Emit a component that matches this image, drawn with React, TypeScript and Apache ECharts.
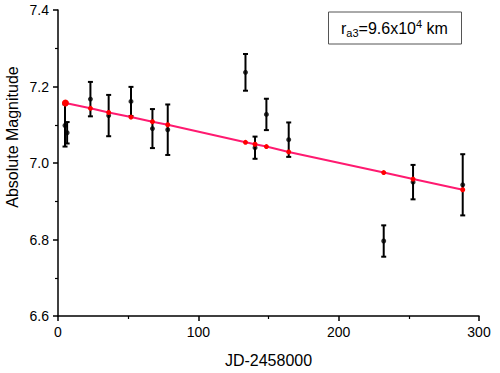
import React, { useEffect, useRef } from "react";
import * as echarts from "echarts";

// Observations: JD-2458000, absolute magnitude, error
const obsX = [5.0, 6.5, 23.1, 36.1, 52.0, 67.3, 78.2, 133.6, 140.4, 148.5, 164.4, 232.1, 253.0, 288.4];
const obsY = [7.098, 7.079, 7.167, 7.124, 7.161, 7.090, 7.087, 7.237, 7.040, 7.127, 7.061, 6.796, 6.950, 6.943];
const obsErr = [0.055, 0.028, 0.045, 0.054, 0.038, 0.051, 0.066, 0.048, 0.029, 0.041, 0.045, 0.041, 0.045, 0.080];

// Model (red) values at observation epochs
const modelX = [5.3, 23.1, 36.1, 52.0, 67.3, 78.2, 133.6, 140.4, 148.5, 164.4, 232.1, 253.0, 288.4];
const modelY = [7.157, 7.143, 7.132, 7.120, 7.108, 7.100, 7.054, 7.049, 7.043, 7.029, 6.975, 6.958, 6.930];

const xTicks = [0, 300, 100];
const yRange = [6.6, 7.4, 0.2];

export default function App() {
  const ref = useRef<HTMLDivElement>(null);
  useEffect(() => {
    if (!ref.current) return;
    const chart = echarts.init(ref.current, undefined, { renderer: "svg" });
    const font = "Liberation Sans, Arial, sans-serif";
    const errData = obsX.map((x, i) => [x, obsY[i] - obsErr[i], obsY[i] + obsErr[i]]);
    chart.setOption({
      animation: false,
      backgroundColor: "#fff",
      grid: { left: 58, right: 21, top: 10, bottom: 52 },
      xAxis: {
        type: "value",
        min: xTicks[0],
        max: xTicks[1],
        interval: xTicks[2],
        name: "JD-2458000",
        nameLocation: "middle",
        nameGap: 36,
        nameTextStyle: { fontFamily: font, fontSize: 16, color: "#000" },
        axisLine: { lineStyle: { color: "#000", width: 1.5 } },
        axisTick: { inside: false, length: 5, lineStyle: { color: "#000", width: 1.5 } },
        minorTick: { show: true, splitNumber: 2, length: 3, lineStyle: { color: "#000", width: 1.2 } },
        axisLabel: { fontFamily: font, fontSize: 14, color: "#000", margin: 9 },
        splitLine: { show: false },
      },
      yAxis: {
        type: "value",
        min: yRange[0],
        max: yRange[1],
        interval: yRange[2],
        axisLine: { show: true, lineStyle: { color: "#000", width: 1.5 } },
        axisTick: { show: true, inside: false, length: 5, lineStyle: { color: "#000", width: 1.5 } },
        minorTick: { show: true, splitNumber: 2, length: 3, lineStyle: { color: "#000", width: 1.2 } },
        axisLabel: { fontFamily: font, fontSize: 14, color: "#000", margin: 9, formatter: (v: number) => v.toFixed(1) },
        splitLine: { show: false },
      },
      graphic: [
        {
          type: "text",
          x: 12,
          y: 137,
          rotation: Math.PI / 2,
          style: {
            text: "Absolute Magnitude",
            fontFamily: font,
            fontSize: 16,
            fill: "#000",
            align: "center",
            verticalAlign: "middle",
          },
        },
        {
          type: "rect",
          shape: { x: 328.5, y: 12, width: 133, height: 32 },
          style: { fill: "#fff", stroke: "#555", lineWidth: 1 },
          z: 10,
        },
        {
          type: "text",
          x: 341,
          y: 28,
          z: 11,
          style: {
            text: "{r|r}{sub|a3}{r|=9.6x10}{sup|4}{r| km}",
            verticalAlign: "middle",
            rich: {
              r: { fontFamily: font, fontSize: 16, fill: "#000" },
              sub: { fontFamily: font, fontSize: 11, fill: "#000", padding: [10, 0, 0, 0] },
              sup: { fontFamily: font, fontSize: 11, fill: "#000", padding: [0, 0, 9, 0] },
            },
          },
        },
      ],
      series: [
        {
          type: "custom",
          z: 2,
          data: errData,
          renderItem: (params: any, api: any) => {
            const x = api.value(0);
            const lo = api.coord([x, api.value(1)]);
            const hi = api.coord([x, api.value(2)]);
            const cap = 2.5;
            const st = { stroke: "#000", lineWidth: 2 };
            return {
              type: "group",
              children: [
                { type: "line", shape: { x1: lo[0], y1: lo[1], x2: hi[0], y2: hi[1] }, style: st },
                { type: "line", shape: { x1: lo[0] - cap, y1: lo[1], x2: lo[0] + cap, y2: lo[1] }, style: st },
                { type: "line", shape: { x1: hi[0] - cap, y1: hi[1], x2: hi[0] + cap, y2: hi[1] }, style: st },
              ],
            };
          },
        },
        {
          type: "scatter",
          z: 3,
          symbol: "circle",
          symbolSize: 5,
          itemStyle: { color: "#000" },
          data: obsX.map((x, i) => [x, obsY[i]]),
        },
        {
          type: "line",
          z: 4,
          symbol: "circle",
          symbolSize: (v: any, p: any) => (p.dataIndex === 0 ? 7 : 5),
          showAllSymbol: true,
          lineStyle: { color: "#ff1a70", width: 2 },
          itemStyle: { color: "#ff0000" },
          data: modelX.map((x, i) => [x, modelY[i]]),
        },
      ],
    });
    return () => chart.dispose();
  }, []);
  return <div ref={ref} style={{ width: 500, height: 373, position: "absolute", left: 0, top: 0 }} />;
}
